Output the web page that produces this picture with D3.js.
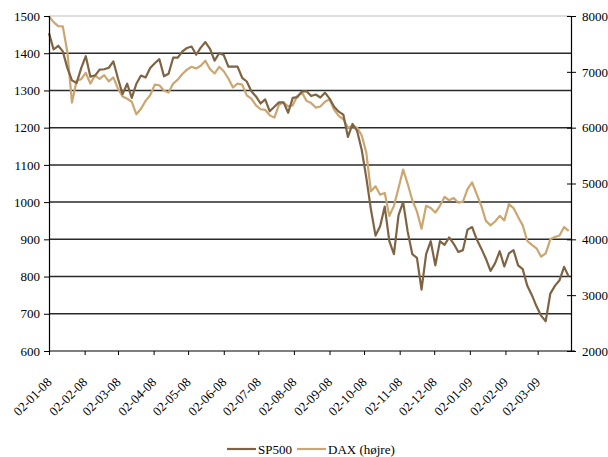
<!DOCTYPE html>
<html>
<head>
<meta charset="utf-8">
<script src="https://cdn.jsdelivr.net/npm/d3@7"></script>
<style>
  body { margin: 0; background: #fff; }
  svg text { font-family: "Liberation Serif", "Times New Roman", serif; font-size: 13px; fill: #000; }
</style>
</head>
<body>
<svg id="chart" width="608" height="457"></svg>
<script>
// observations every 4th calendar day from 2 Jan 2008
const startDate = new Date(2008, 0, 2);
const endDate = new Date(2009, 2, 31);
const dates = d3.range(114).map(i => d3.timeDay.offset(startDate, 4 * i));

// SP500 (left axis)
const sp500 = [
  1454, 1410, 1420, 1405, 1360, 1327, 1320, 1360, 1392, 1337,
  1340, 1356, 1357, 1361, 1378, 1332, 1290, 1318, 1280, 1318,
  1340, 1335, 1360, 1373, 1384, 1338, 1345, 1388, 1388, 1405,
  1414, 1418, 1396, 1415, 1430, 1412, 1380, 1400, 1395, 1364,
  1364, 1364, 1334, 1324, 1298, 1284, 1265, 1276, 1244, 1256,
  1268, 1268, 1240, 1280, 1282, 1297, 1298, 1285, 1289, 1281,
  1294, 1278, 1256, 1243, 1235, 1175, 1210, 1191, 1140, 1065,
  980, 910, 935, 988, 895, 860, 965, 1000, 920, 860,
  850, 765, 860, 895, 830, 895, 885, 905, 888, 866,
  871, 926, 933, 900, 875, 848, 815, 836, 868, 827,
  862, 871, 830, 820, 775, 750, 720, 695, 680, 754,
  775, 790, 826, 800
];

// DAX (right axis)
const dax = [
  7990, 7890, 7820, 7815, 7350, 6450, 6840, 6870, 6980, 6789,
  6934, 6875, 6940, 6830, 6900, 6699, 6560, 6518, 6464, 6240,
  6338, 6480, 6580, 6770, 6760, 6660, 6630, 6790, 6860, 6960,
  7040, 7090, 7060, 7110, 7200, 7050, 6970, 7090, 7010, 6880,
  6720, 6790, 6770, 6580, 6520, 6400, 6330, 6320, 6220, 6180,
  6410, 6450, 6380, 6400, 6570, 6630, 6480, 6440, 6360, 6380,
  6464, 6510, 6320, 6211, 6150, 6000, 6030, 6000, 5860, 5550,
  4860, 4950, 4800, 4830, 4420, 4600, 4920, 5250, 4990, 4700,
  4500, 4190, 4600, 4560, 4480, 4600, 4760, 4700, 4740, 4657,
  4675, 4900, 5018, 4810, 4600, 4330, 4250, 4320, 4420, 4340,
  4630, 4560, 4400, 4250, 3970, 3900, 3840, 3690, 3750, 4000,
  4043, 4070, 4220, 4150
];

const leftTicks = d3.range(600, 1501, 100);
const rightTicks = d3.range(2000, 8001, 1000);
const monthTicks = d3.timeMonth.range(new Date(2008, 0, 1), new Date(2009, 3, 1))
  .map(d => d3.timeDay.offset(d, 1));
const seriesNames = ["SP500", "DAX (højre)"];
const colors = ["#7f6443", "#cca671"];

const svg = d3.select("#chart");
const mLeft = 49, mRight = 571, mTop = 16, mBottom = 351;

const x = d3.scaleTime().domain([startDate, endDate]).range([mLeft, mRight]);
const yL = d3.scaleLinear().domain([600, 1500]).range([mBottom, mTop]);
const yR = d3.scaleLinear().domain([2000, 8000]).range([mBottom, mTop]);

// gridlines
svg.append("g")
  .selectAll("line")
  .data(leftTicks.filter(d => d > 600))
  .join("line")
  .attr("x1", mLeft).attr("x2", mRight)
  .attr("y1", d => yL(d)).attr("y2", d => yL(d))
  .attr("stroke", d => d === 1500 ? "#d4d4d4" : "#2a2a2a")
  .attr("stroke-width", 1.5);

// series lines
const lineL = d3.line().x((d, i) => x(dates[i])).y(d => yL(d));
const lineR = d3.line().x((d, i) => x(dates[i])).y(d => yR(d));

svg.append("path").datum(dax)
  .attr("d", lineR).attr("fill", "none")
  .attr("stroke", colors[1]).attr("stroke-width", 2.2).attr("stroke-linejoin", "round");
svg.append("path").datum(sp500)
  .attr("d", lineL).attr("fill", "none")
  .attr("stroke", colors[0]).attr("stroke-width", 2.2).attr("stroke-linejoin", "round");

// left axis
const axL = svg.append("g")
  .attr("transform", `translate(${mLeft},0)`)
  .call(d3.axisLeft(yL).tickValues(leftTicks).tickSize(5).tickPadding(4).tickFormat(d3.format("d")));
axL.select(".domain").attr("stroke", "#000").attr("stroke-width", 1.2);

// right axis, ticks cross the line
const axR = svg.append("g")
  .attr("transform", `translate(${mRight},0)`)
  .call(d3.axisRight(yR).tickValues(rightTicks).tickSize(5).tickPadding(6).tickFormat(d3.format("d")));
axR.select(".domain").attr("stroke", "#000").attr("stroke-width", 1.2);
axR.selectAll(".tick line").attr("x1", -4);

// bottom axis
const axB = svg.append("g")
  .attr("transform", `translate(0,${mBottom})`)
  .call(d3.axisBottom(x).tickValues(monthTicks).tickSize(4).tickFormat(d3.timeFormat("%d-%m-%y")));
axB.select(".domain").attr("stroke", "#000").attr("stroke-width", 1.2).attr("d", `M${mLeft},0H${mRight + 4}`);
axB.selectAll(".tick text")
  .attr("text-anchor", "end")
  .attr("dy", null).attr("y", null)
  .attr("transform", "translate(3,32) rotate(-45)");

svg.selectAll(".tick text").style("font-family", "Liberation Serif").style("font-size", "13px");
svg.selectAll(".tick line").attr("stroke", "#000");

// legend
const legend = svg.append("g").attr("transform", "translate(227,449)");
const items = legend.selectAll("g").data(seriesNames).join("g")
  .attr("transform", (d, i) => `translate(${i * 70},0)`);
items.append("line").attr("x1", 0).attr("x2", 29).attr("y1", 0).attr("y2", 0)
  .attr("stroke", (d, i) => colors[i]).attr("stroke-width", 2.2);
items.append("text").attr("x", 31).attr("y", 4.5).text(d => d);
</script>
</body>
</html>
